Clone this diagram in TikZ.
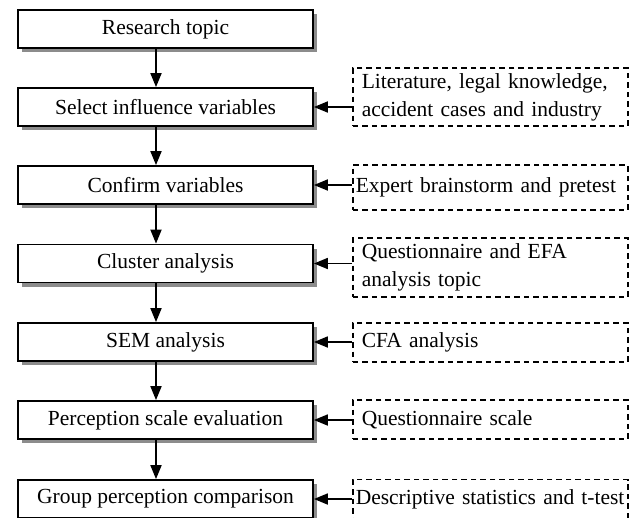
\documentclass[tikz,border=0pt]{standalone}
\usepackage{fontspec}
\setmainfont{Liberation Serif}
\usetikzlibrary{positioning, shadows, arrows.meta}

\begin{document}
\begin{tikzpicture}[x=1pt, y=-1pt,
    font=\fontsize{21.5}{28}\selectfont,
    stage/.style={draw, line width=1.8pt, fill=white, minimum width=295pt, minimum height=38pt, inner sep=0pt,
        drop shadow={shadow xshift=4pt, shadow yshift=-4pt, fill=black!45, opacity=1}},
    source/.style={draw, dash pattern=on 5.5pt off 4pt, line width=1.5pt, anchor=west, minimum width=275pt,
        inner xsep=9pt, text width=257pt, align=left},
    arr/.style={-{Triangle[length=14pt,width=11pt]}, line width=1.8pt}]
    \useasboundingbox (0,0) rectangle (636,517);

    % main steps
    \node[stage] (topic) at (165.5,29) {Research topic};
    \node[stage] (select) at (165.5,107) {Select influence variables};
    \node[stage] (confirm) at (165.5,185) {Confirm variables};
    \node[stage] (cluster) at (165.5,263.5) {Cluster analysis};
    \node[stage] (sem) at (165.5,342) {SEM analysis};
    \node[stage] (scale) at (165.5,420) {Perception scale evaluation};
    \node[stage] (group) at (165.5,499) {Group perception comparison};

    % inputs
    \node[source, minimum height=58pt] (lit) at (352,97) {Literature, legal knowledge,\\accident cases and industry};
    \node[source, minimum height=45pt, inner xsep=3pt, text width=269pt] (expert) at (352,187.5) {Expert brainstorm and pretest};
    \node[source, minimum height=59pt] (efa) at (352,267.5) {Questionnaire and EFA\\analysis topic};
    \node[source, minimum height=39pt] (cfa) at (352,342.5) {CFA analysis};
    \node[source, minimum height=39pt] (quest) at (352,419.5) {Questionnaire scale};
    \node[source, minimum height=39pt, inner xsep=3pt, text width=269pt] (desc) at (352,499) {Descriptive statistics and t-test};

    % flow
    \draw[arr] ([xshift=-9.5pt]topic.south) -- ([xshift=-9.5pt]select.north);
    \draw[arr] ([xshift=-9.5pt]select.south) -- ([xshift=-9.5pt]confirm.north);
    \draw[arr] ([xshift=-9.5pt]confirm.south) -- ([xshift=-9.5pt]cluster.north);
    \draw[arr] ([xshift=-9.5pt]cluster.south) -- ([xshift=-9.5pt]sem.north);
    \draw[arr] ([xshift=-9.5pt]sem.south) -- ([xshift=-9.5pt]scale.north);
    \draw[arr] ([xshift=-9.5pt]scale.south) -- ([xshift=-9.5pt]group.north);

    % inputs to steps
    \draw[arr] (lit.west |- select.east) -- (select.east);
    \draw[arr] (expert.west |- confirm.east) -- (confirm.east);
    \draw[arr] (efa.west |- cluster.east) -- (cluster.east);
    \draw[arr] (cfa.west |- sem.east) -- (sem.east);
    \draw[arr] (quest.west |- scale.east) -- (scale.east);
    \draw[arr] (desc.west |- group.east) -- (group.east);
\end{tikzpicture}
\end{document}
